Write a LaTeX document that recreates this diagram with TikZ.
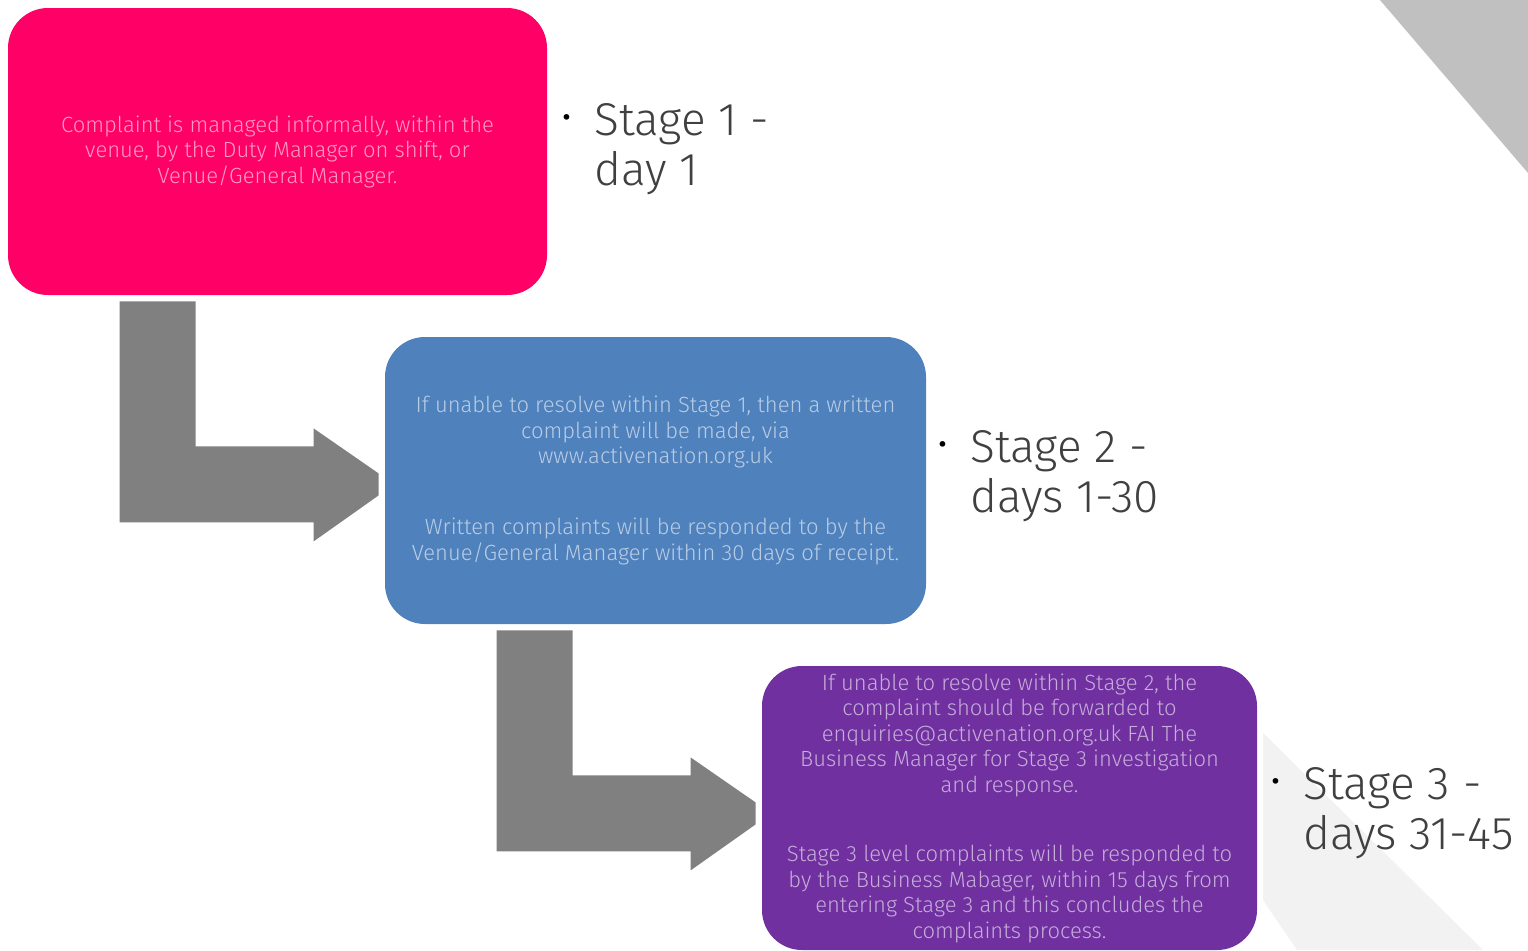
\documentclass[tikz,border=0pt]{standalone}
\usepackage{fontspec}
\IfFontExistsTF{Fira Sans Light}{\setmainfont{Fira Sans Light}}{\setmainfont{Fira Sans}}
\usetikzlibrary{positioning,calc}
\definecolor{stagepink}{HTML}{FF0066}
\definecolor{stageblue}{HTML}{4F81BD}
\definecolor{stagepurple}{HTML}{7030A0}
\definecolor{arrowgray}{HTML}{808080}
\definecolor{labelgray}{HTML}{404040}
\definecolor{cornergray}{HTML}{C0C0C0}
\definecolor{cornerlight}{HTML}{F2F2F2}
\newcommand\stagebullet{\llap{\textcolor{black}{\raisebox{2.5pt}{\fontsize{19pt}{19pt}\selectfont\textbullet}}\hspace{11pt}}}

\begin{document}
\begin{tikzpicture}[
  x=0.5pt, y=-0.5pt,
  box/.style={rounded corners=20pt, minimum height=143.5pt, minimum width=269.5pt, inner sep=0pt,
    align=center, text=white, text opacity=0.6, font=\fontsize{11}{12.75}\selectfont},
  stage/.style={anchor=base west, align=left, inner sep=0pt, text=labelgray,
    font=\fontsize{23}{25}\selectfont},
  bent/.style={fill=arrowgray}
]
\useasboundingbox[fill=white] (0,0) rectangle (1528,950);
\fill[cornergray] (1380,0) -- (1528,0) -- (1528,173) -- cycle;
\fill[cornerlight] (1263,733) -- (1483,950) -- (1297,950) -- (1263,900) -- cycle;

\node[box, fill=stagepink] (informal) at (277.5,151.5) {Complaint is managed informally, within the\\venue, by the Duty Manager on shift, or\\Venue/General Manager.};
\node[box, fill=stageblue, minimum width=270.5pt] (written) at (655.5,480.5) {If unable to resolve within Stage 1, then a written\\complaint will be made, via\\www.activenation.org.uk\\[22.75pt]Written complaints will be responded to by the\\Venue/General Manager within 30 days of receipt.};
\node[box, fill=stagepurple, minimum width=247.5pt, minimum height=142pt] (escalate) at (1009.5,808) {If unable to resolve within Stage 2, the\\complaint should be forwarded to\\enquiries@activenation.org.uk FAI The\\Business Manager for Stage 3 investigation\\and response.\\[22pt]Stage 3 level complaints will be responded to\\by the Business Mabager, within 15 days from\\entering Stage 3 and this concludes the\\complaints process.};

\node[stage] (s1) at (594,185) {\stagebullet Stage 1 -\\day 1};
\node[stage] (s2) at (970,512) {\stagebullet Stage 2 -\\days 1-30};
\node[stage] (s3) at (1303,849) {\stagebullet Stage 3 -\\days 31-45};

% bent arrows from each stage down into the next one
\foreach \b in {informal,written}
  \fill[bent, shift={($(\b.south west)+(112,6)$)}] (0,0) -- (76,0) -- (76,145) -- (194,145) -- (194,127)
    -- (259,172) -- (259,194) -- (194,240) -- (194,221) -- (0,221) -- cycle;
\end{tikzpicture}
\end{document}
